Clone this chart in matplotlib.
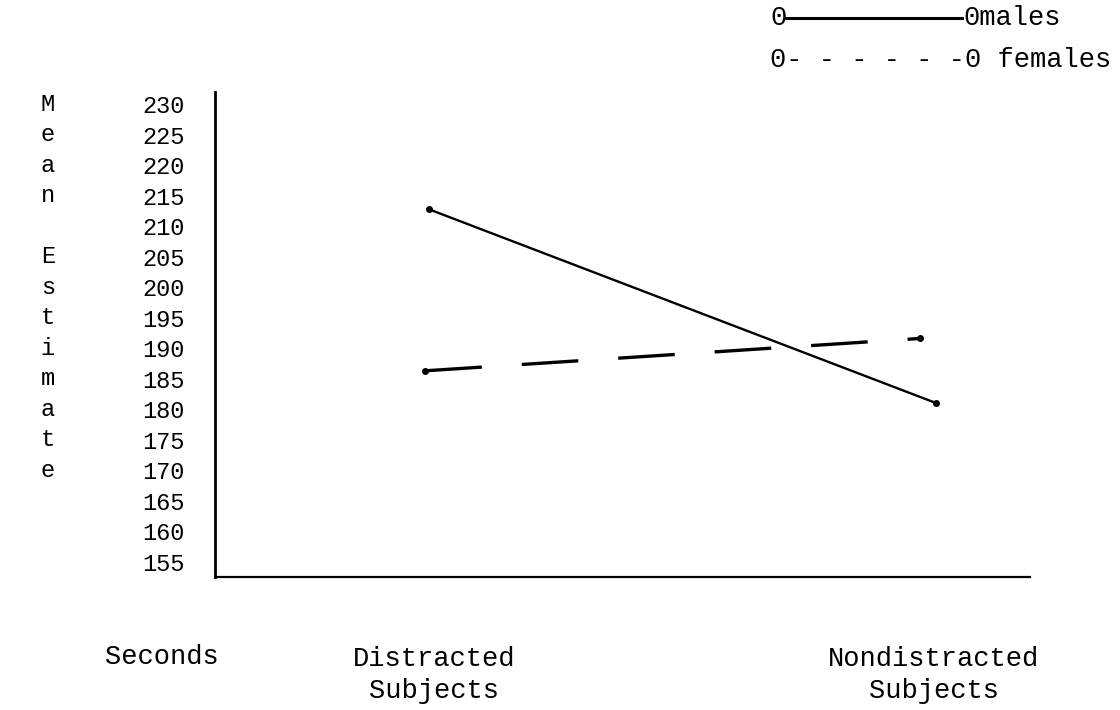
import matplotlib
matplotlib.use("Agg")
import matplotlib.pyplot as plt
from matplotlib.lines import Line2D

# Data
categories = ["Distracted\nSubjects", "Nondistracted\nSubjects"]
males = [212.8, 181.0]
females = [186.3, 191.6]
yticks = [230, 225, 220, 215, 210, 205, 200, 195, 190, 185, 180, 175, 170, 165, 160, 155]
ylabel_letters = ["M", "e", "a", "n", "", "E", "s", "t", "i", "m", "a", "t", "e"]

W, H = 1120, 710
fig = plt.figure(figsize=(W / 100, H / 100), dpi=100)
font = "Liberation Mono"
fs = 17
fs_big = 19.5

ax_left, ax_right, ax_bottom, ax_top = 215, 1030, 577, 92
ax = fig.add_axes([ax_left / W, 1 - ax_bottom / H, (ax_right - ax_left) / W, (ax_bottom - ax_top) / H])

ax.set_xlim(0, 1)
ax.set_ylim(152.5, 232.0)
xpos = [0.262, 0.885]
xpos_f = [0.258, 0.865]

ax.plot(xpos, males, color="black", lw=1.7, solid_capstyle="round")
ax.plot(xpos, males, "o", color="black", ms=4)
ax.plot(xpos_f, females, color="black", lw=2.4, dashes=(17, 12))
ax.plot(xpos_f, females, "o", color="black", ms=4)

for s in ["top", "right"]:
    ax.spines[s].set_visible(False)
ax.spines["left"].set_linewidth(2.0)
ax.spines["bottom"].set_linewidth(1.6)

ax.set_yticks(yticks)
ax.set_yticklabels([str(v) for v in yticks], family=font, fontsize=fs)
ax.tick_params(axis="y", length=0, pad=22)
ax.set_xticks([])

# Vertical y label letters, aligned with tick rows
tr = ax.get_yaxis_transform()
for letter, yv in zip(ylabel_letters, yticks):
    if letter:
        ax.text(-0.205, yv, letter, transform=tr, family=font, fontsize=fs,
                ha="center", va="center", clip_on=False)


def fx(px):
    return px / W


def fy(py):
    return 1 - py / H


# Bottom labels
fig.text(fx(162), fy(657), "Seconds", family=font, fontsize=fs_big, ha="center", va="center")
fig.text(fx(434), fy(675), categories[0], family=font, fontsize=fs_big, ha="center", va="center",
         linespacing=1.25)
fig.text(fx(934), fy(675), categories[1], family=font, fontsize=fs_big, ha="center", va="center",
         linespacing=1.25)

# Legend (typewritten)
fig.text(fx(770), fy(18), "0", family=font, fontsize=fs_big, ha="left", va="center")
fig.add_artist(Line2D([fx(786), fx(962)], [fy(18), fy(18)], color="black", lw=2.2,
                      transform=fig.transFigure))
fig.text(fx(963), fy(18), "0males", family=font, fontsize=fs_big, ha="left", va="center")
fig.text(fx(770), fy(60), "0- - - - - -0 females", family=font, fontsize=fs_big, ha="left", va="center")

fig.savefig("out.png", dpi=100, facecolor="white")
